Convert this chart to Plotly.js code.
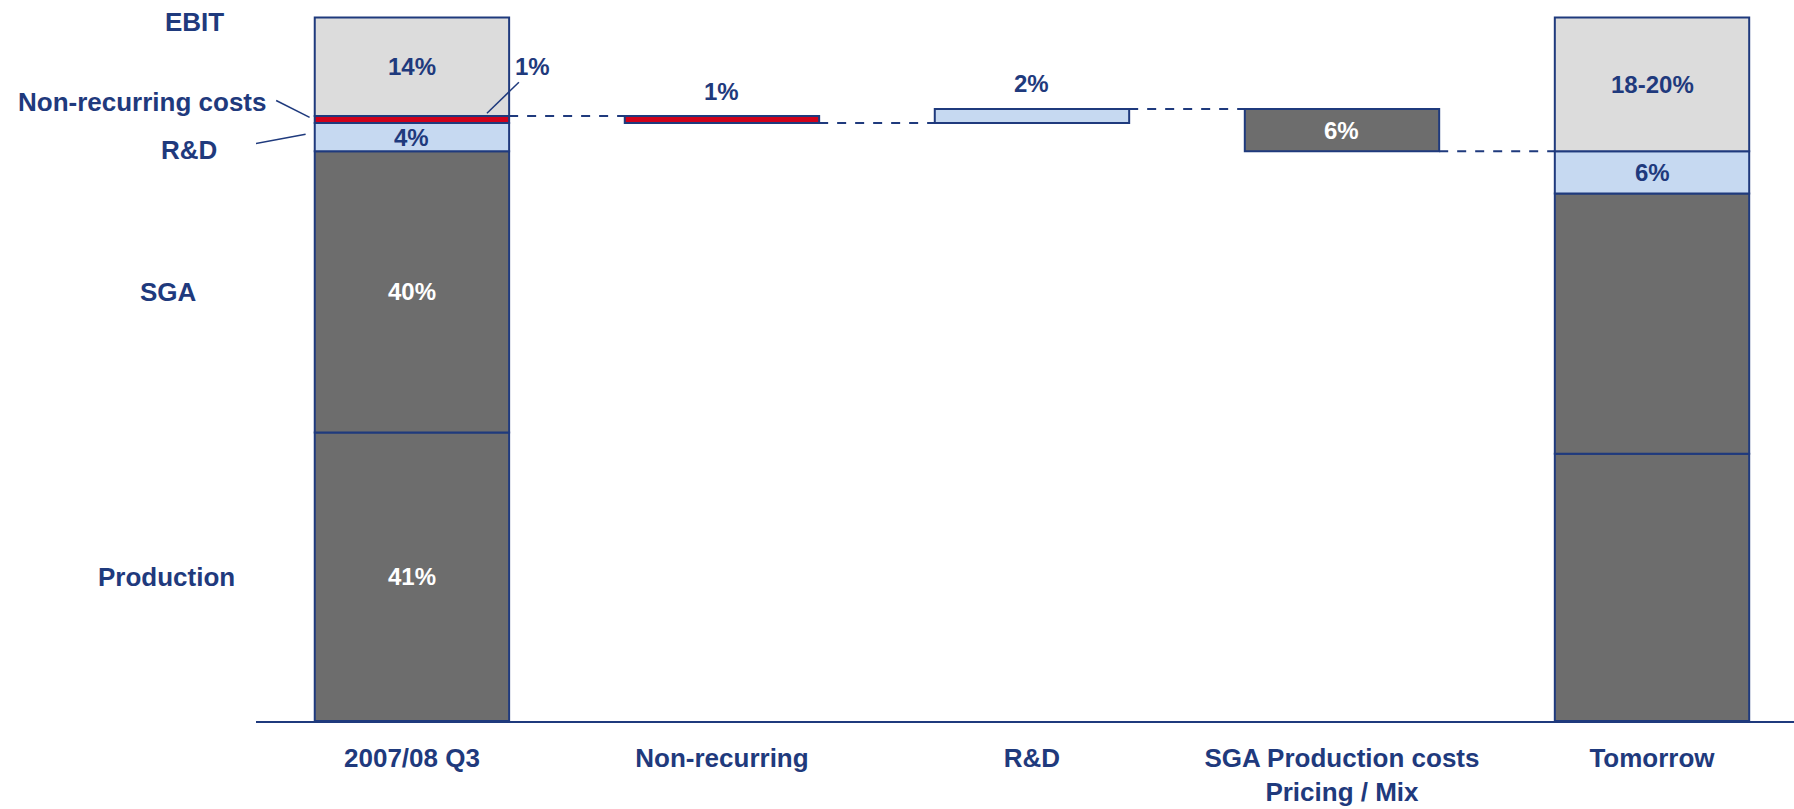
<!DOCTYPE html>
<html><head><meta charset="utf-8">
<script src="https://cdn.plot.ly/plotly-3.0.1.min.js"></script>
<style>html,body{margin:0;padding:0;background:#fff}#chart{width:1794px;height:809px}</style>
</head><body><div id="chart"></div>
<script>
// ---- data (% of sales) ----
const categories = ["2007/08 Q3", "Non-recurring", "R&D", "SGA Production costs<br>Pricing / Mix", "Tomorrow"];
const production   = [41, null, null, null, 38];
const sga          = [40, null, null, null, 37];
const rnd          = [4,  null, null, null, 6];
const nonRecurring = [1,  null, null, null, null];
const ebit         = [14, null, null, null, 19];
const steps        = [null, -1, 2, -6, null];   // change of total cost level
const productionLabels = ["41%", "", "", "", ""];
const sgaLabels        = ["40%", "", "", "", ""];
const rndLabels        = ["4%", "", "", "", "6%"];
const nonRecLabels     = ["1%", "", "", "", ""];
const ebitLabels       = ["14%", "", "", "", "18-20%"];
const stepLabels       = ["", "1%", "2%", "6%", ""];
const sideLabels = ["Production", "SGA", "R&D", "Non-recurring costs", "EBIT"];

// ---- styling ----
const NAVY = "#1f3a7d", GREY = "#6d6d6d", LGREY = "#dcdcdc", LBLUE = "#c6d9f1", RED = "#d0021b";
const FONT = "Liberation Sans, Arial, sans-serif";
const W = 0.627;
const xs = categories.map((c, i) => i);
const add = (a, b) => a.map((v, i) => (v == null || b[i] == null) ? null : v + b[i]);

const baseProd = production.map(v => v == null ? null : 0);
const baseSGA = add(baseProd, production);
const baseRnd = add(baseSGA, sga);
const baseNR = add(baseRnd, rnd);
const baseEbit = xs.map(i => baseRnd[i] == null ? null : baseRnd[i] + rnd[i] + (nonRecurring[i] || 0));

// waterfall levels
const levels = [];
let lvl = baseEbit[0];
levels[0] = lvl;
const stepColors = [null, RED, LBLUE, GREY, null];
const stepBases = [], stepHeights = [];
for (let i = 0; i < xs.length; i++) {
  if (steps[i] == null) { stepBases.push(null); stepHeights.push(null); continue; }
  const next = lvl + steps[i];
  stepBases.push(Math.min(lvl, next));
  stepHeights.push(Math.abs(steps[i]));
  lvl = next;
  levels[i] = lvl;
}

const line = {color: NAVY, width: 2};
function seg(y, base, color) {
  return {type: "bar", x: xs, y: y, base: base, width: W, marker: {color: color, line: line},
          hoverinfo: "skip", showlegend: false};
}
const traces = [
  seg(production, baseProd, GREY),
  seg(sga, baseSGA, GREY),
  seg(rnd, baseRnd, LBLUE),
  seg(nonRecurring, baseNR, RED),
  seg(ebit, baseEbit, LGREY),
  {type: "bar", x: xs, y: stepHeights, base: stepBases, width: W,
   marker: {color: stepColors.map(c => c || "#fff"), line: line}, hoverinfo: "skip", showlegend: false}
];

const annotations = [];
function lab(x, y, text, color, extra) {
  annotations.push(Object.assign({x: x, y: y, xref: "x", yref: "y", text: text, showarrow: false,
    xanchor: "center", yanchor: "middle",
    font: {family: FONT, size: 24, color: color, weight: "bold"}}, extra || {}));
}
xs.forEach(i => {
  if (productionLabels[i]) lab(i, baseProd[i] + production[i] / 2, productionLabels[i], "#fff");
  if (sgaLabels[i]) lab(i, baseSGA[i] + sga[i] / 2, sgaLabels[i], "#fff");
  if (rndLabels[i]) lab(i, baseRnd[i] + rnd[i] / 2, rndLabels[i], NAVY);
  if (ebitLabels[i]) lab(i, baseEbit[i] + ebit[i] / 2, ebitLabels[i], NAVY);
  if (stepLabels[i]) {
    if (stepColors[i] === GREY) lab(i, stepBases[i] + stepHeights[i] / 2, stepLabels[i], "#fff");
    else lab(i, stepBases[i] + stepHeights[i], stepLabels[i], NAVY, {yshift: 25});
  }
});
// non-recurring label in first bar with leader line
lab(0.39, 93.0, nonRecLabels[0], NAVY);

// side labels (left, outside the plot area)
const side = {family: FONT, size: 26, color: NAVY, weight: "bold"};
function sideLab(x, y, text, extra) {
  annotations.push(Object.assign({x: x, y: y, xref: "paper", yref: "y", text: text, showarrow: false,
    xanchor: "center", yanchor: "middle", font: side}, extra || {}));
}
sideLab(-0.0579, 20.5, sideLabels[0]);
sideLab(-0.0566, 61, sideLabels[1]);
sideLab(-0.0436, 81.2, sideLabels[2]);
sideLab(0.0085, 88.0, sideLabels[3], {xanchor: "right"});
sideLab(-0.0403, 99.3, sideLabels[4]);

const shapes = [];
// waterfall connectors
for (let i = 0; i < xs.length - 1; i++) {
  shapes.push({type: "line", xref: "x", yref: "y", x0: i + W / 2, x1: i + 1 - W / 2, y0: levels[i], y1: levels[i],
               line: {color: NAVY, width: 2, dash: "dash"}});
}
// leader lines
const thin = {color: NAVY, width: 1.5};
shapes.push({type: "line", xref: "x", yref: "y", x0: -0.438, y0: 88.2, x1: -0.33, y1: 85.8, line: thin});
shapes.push({type: "line", xref: "x", yref: "y", x0: -0.587, y0: 81.4, x1: -0.343, y1: 83.4, line: thin});
shapes.push({type: "line", xref: "x", yref: "y", x0: 0.345, y0: 90.8, x1: 0.242, y1: 86.4, line: thin});

const layout = {
  width: 1794, height: 809,
  margin: {l: 256, r: 0, t: 14, b: 88},
  paper_bgcolor: "#fff", plot_bgcolor: "#fff",
  barmode: "overlay", showlegend: false, hovermode: false,
  xaxis: {range: [-0.503, 4.458], tickvals: xs, ticktext: categories, showgrid: false, zeroline: false,
          showline: true, linecolor: NAVY, linewidth: 2, ticks: "outside", ticklen: 13,
          tickcolor: "rgba(0,0,0,0)", tickfont: {family: FONT, size: 26, color: NAVY, weight: "bold"}},
  yaxis: {range: [0, 100.5], visible: false, fixedrange: true},
  annotations: annotations, shapes: shapes
};
Plotly.newPlot("chart", traces, layout, {displayModeBar: false, staticPlot: true});
</script></body></html>
